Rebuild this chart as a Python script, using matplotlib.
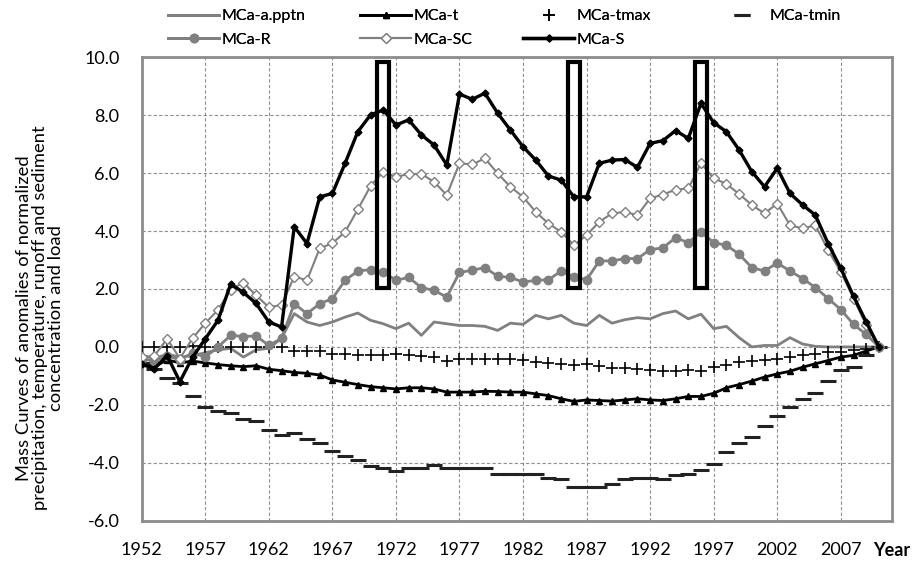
import matplotlib
matplotlib.use("Agg")
import matplotlib.pyplot as plt
from matplotlib.patches import Rectangle

plt.rcParams['font.family'] = ['Lato', 'DejaVu Sans']

years = list(range(1952, 2011))

pptn = [-0.30, -0.40, -0.25, -0.35, -0.30, -0.20, -0.10, -0.05, -0.35, -0.10,
        -0.05, 0.30, 1.15, 0.86, 0.74, 0.86, 1.03, 1.17, 0.92, 0.80,
        0.63, 0.82, 0.40, 0.86, 0.80, 0.74, 0.74, 0.71, 0.57, 0.82,
        0.78, 1.09, 0.97, 1.09, 0.82, 0.74, 1.09, 0.82, 0.94, 1.01,
        0.97, 1.15, 1.24, 0.97, 1.13, 0.63, 0.71, 0.32, 0.00, 0.05,
        0.05, 0.32, 0.10, 0.02, 0.00, 0.00, 0.00, 0.00, 0.00]

t_ = [-0.55, -0.68, -0.45, -0.55, -0.49, -0.55, -0.61, -0.65, -0.68, -0.65,
      -0.77, -0.82, -0.88, -0.91, -0.97, -1.14, -1.22, -1.30, -1.37, -1.41,
      -1.45, -1.41, -1.41, -1.45, -1.56, -1.56, -1.56, -1.53, -1.54, -1.56,
      -1.56, -1.62, -1.68, -1.79, -1.88, -1.83, -1.85, -1.87, -1.83, -1.79,
      -1.83, -1.85, -1.79, -1.71, -1.71, -1.60, -1.41, -1.30, -1.18, -1.04,
      -0.93, -0.84, -0.70, -0.58, -0.47, -0.35, -0.29, -0.14, 0.00]

tmax = [0.00, 0.00, 0.00, 0.00, 0.03, 0.00, 0.00, 0.00, 0.00, 0.00,
        0.00, 0.00, -0.15, -0.13, -0.13, -0.25, -0.25, -0.27, -0.27, -0.27,
        -0.25, -0.27, -0.33, -0.36, -0.47, -0.43, -0.42, -0.42, -0.42, -0.41,
        -0.44, -0.52, -0.56, -0.58, -0.64, -0.58, -0.67, -0.72, -0.72, -0.76,
        -0.79, -0.84, -0.82, -0.79, -0.84, -0.70, -0.61, -0.52, -0.49, -0.45,
        -0.41, -0.35, -0.29, -0.24, -0.18, -0.16, -0.12, -0.06, 0.00]

tmin = [-0.55, -0.75, -1.07, -1.25, -1.68, -2.06, -2.22, -2.28, -2.49, -2.54,
        -2.87, -3.04, -2.97, -3.18, -3.32, -3.58, -3.75, -3.90, -4.12, -4.18,
        -4.30, -4.18, -4.18, -4.07, -4.18, -4.18, -4.18, -4.18, -4.37, -4.37,
        -4.37, -4.37, -4.51, -4.56, -4.83, -4.83, -4.83, -4.74, -4.56, -4.51,
        -4.51, -4.56, -4.41, -4.37, -4.25, -4.04, -3.64, -3.33, -3.10, -2.72,
        -2.40, -2.06, -1.79, -1.60, -1.18, -0.79, -0.68, -0.29, 0.00]

R = [-0.40, -0.50, -0.30, -0.45, -0.20, -0.35, 0.00, 0.40, 0.36, 0.38,
     0.05, 0.30, 1.49, 1.15, 1.49, 1.67, 2.30, 2.62, 2.67, 2.58,
     2.30, 2.40, 2.05, 1.95, 1.72, 2.57, 2.65, 2.74, 2.44, 2.40,
     2.24, 2.30, 2.32, 2.62, 2.42, 2.32, 2.97, 2.97, 3.05, 3.05,
     3.36, 3.42, 3.77, 3.60, 3.97, 3.60, 3.51, 3.20, 2.74, 2.62,
     2.90, 2.62, 2.36, 2.05, 1.67, 1.29, 0.78, 0.43, 0.00]

SC = [-0.35, -0.30, 0.28, -0.40, 0.30, 0.82, 1.28, 1.98, 2.22, 1.78,
      1.37, 1.45, 2.43, 2.30, 3.40, 3.58, 3.97, 4.75, 5.55, 6.05,
      5.87, 5.97, 5.97, 5.70, 5.24, 6.34, 6.30, 6.51, 5.99, 5.53,
      5.18, 4.66, 4.26, 3.97, 3.51, 3.86, 4.32, 4.61, 4.66, 4.55,
      5.13, 5.26, 5.43, 5.47, 6.34, 5.82, 5.63, 5.28, 4.90, 4.61,
      4.95, 4.20, 4.09, 4.20, 3.34, 2.59, 1.67, 0.74, 0.00]

S = [-0.60, -0.75, -0.30, -1.20, -0.35, 0.28, 0.92, 2.17, 1.88, 1.50,
     0.86, 0.69, 4.15, 3.57, 5.18, 5.30, 6.34, 7.43, 8.01, 8.18,
     7.66, 7.84, 7.32, 6.97, 6.28, 8.73, 8.55, 8.76, 8.07, 7.49,
     6.91, 6.45, 5.90, 5.76, 5.18, 5.18, 6.34, 6.45, 6.47, 6.20,
     7.03, 7.12, 7.47, 7.20, 8.41, 7.74, 7.43, 6.80, 6.05, 5.53,
     6.17, 5.30, 4.90, 4.55, 3.57, 2.71, 1.75, 0.86, 0.00]

change_years = [1971, 1986, 1996]
xtick_years = list(range(1952, 2011, 5))
ytick_vals = [-6, -4, -2, 0, 2, 4, 6, 8, 10]

fig = plt.figure(figsize=(9.18, 5.61), dpi=100)
ax = fig.add_axes([0.1544, 0.0718, 0.8169, 0.8261])

gray = '#808080'
l_p, = ax.plot(years, pptn, color=gray, lw=2, label='MCa-a.pptn', zorder=3)
l_t, = ax.plot(years, t_, color='black', lw=2, marker='^', ms=4.5, label='MCa-t', zorder=4)
l_tx, = ax.plot(years, tmax, ls='none', marker='+', ms=8, mew=1.2, color='black',
                label='MCa-tmax', zorder=4)
l_tn, = ax.plot(years, tmin, ls='none', marker='_', ms=11, mew=2.2, color='#222222',
                label='MCa-tmin', zorder=4)
l_r, = ax.plot(years, R, color=gray, lw=2, marker='o', ms=6, mfc=gray, mec=gray,
               label='MCa-R', zorder=5)
l_sc, = ax.plot(years, SC, color=gray, lw=1.5, marker='D', ms=5.5, mfc='white', mec=gray,
                label='MCa-SC', zorder=6)
l_s, = ax.plot(years, S, color='black', lw=2.4, marker='D', ms=3.5, label='MCa-S', zorder=7)

for yr in change_years:
    ax.add_patch(Rectangle((yr - 0.47, 2.05), 0.94, 7.8, fill=False, lw=3,
                           ec='black', zorder=8))

ax.set_xlim(1952, 2011)
ax.set_ylim(-6, 10)
ax.set_xticks(xtick_years + [2011])
ax.set_xticklabels([str(y) for y in xtick_years] + ['Year'])
ax.get_xticklabels()[-1].set_fontweight('bold')
ax.set_yticks(ytick_vals)
ax.set_yticklabels([f'{v:.1f}' for v in ytick_vals])
ax.tick_params(axis='both', length=0, labelsize=13)
ax.tick_params(axis='x', pad=15)
ax.tick_params(axis='y', pad=16)
ax.grid(True, linestyle=(0, (3, 2)), color='#909090', lw=0.8)
ax.set_axisbelow(True)
for sp in ax.spines.values():
    sp.set_color('#8c8c8c')
    sp.set_linewidth(2)

fig.text(40 / 918, 1 - 318 / 561,
         'Mass Curves of anomalies of normalized\n'
         'precipitation, temperature, runoff and sediment\n'
         'concentration and load',
         rotation=90, ha='center', va='center', multialignment='center',
         fontsize=13.2, linespacing=1.0)

columns = [([l_p, l_r], 168), ([l_t, l_sc], 360), ([l_tx, l_s], 523), ([l_tn], 716)]
for handles, xpix in columns:
    lg = fig.legend(handles, [h.get_label() for h in handles], loc='upper left',
                    bbox_to_anchor=(xpix / 918, 1 - 9 / 561), frameon=False,
                    fontsize=11.5, handlelength=3.2, handletextpad=0.15,
                    labelspacing=0.58, borderpad=0, borderaxespad=0)
    fig.add_artist(lg)

fig.savefig('out.png', dpi=100)
